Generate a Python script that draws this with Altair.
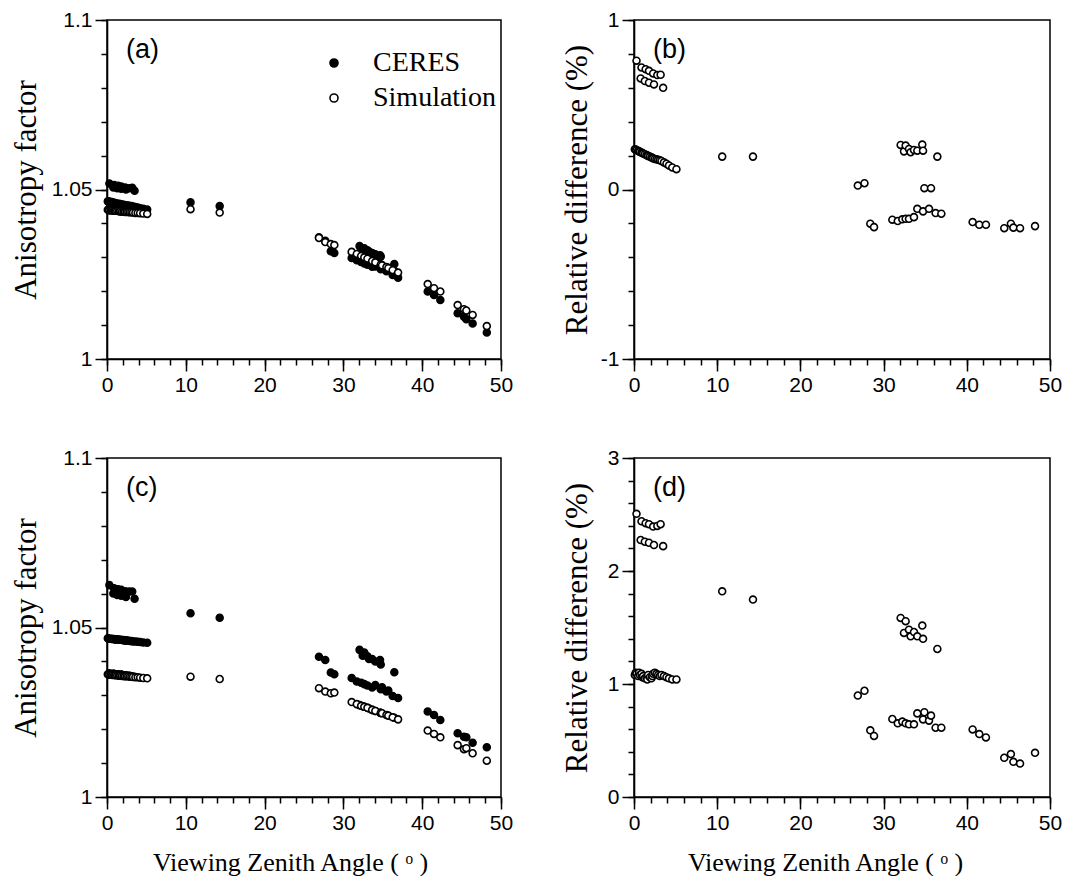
import altair as alt
import pandas as pd

# ---------------- data ----------------
# viewing zenith angles of the footprints (same for all four panels)
vza = [
    # upper group near nadir
    0.3, 0.9, 1.4, 1.8, 2.3, 2.8, 3.2, 0.8, 1.3, 1.8, 2.4, 3.5,
    # lower group near nadir
    0.1, 0.2, 0.3, 0.5, 0.6, 0.7, 0.9, 1.0, 1.1, 1.3, 1.5, 1.6, 1.7, 1.9,
    2.1, 2.2, 2.3, 2.5, 2.7, 2.9, 3.1, 3.3, 3.6, 3.9, 4.2, 4.6, 5.1,
    # isolated
    10.6, 14.3,
    26.9, 27.7,
    28.4, 28.85,
    32.05, 32.45, 32.65, 33.05, 33.25, 33.65, 34.05, 34.65, 34.74, 36.46,
    31.05, 31.7, 32.25, 32.65, 33.05, 33.65, 34.05, 34.74, 34.9, 35.46, 35.7, 36.25, 36.94,
    40.7, 41.5, 42.3,
    44.5, 45.3, 45.6, 46.4,
    48.2,
]

ceres_a = [
    1.0518, 1.0513, 1.0511, 1.0509, 1.0506, 1.0504, 1.0505, 1.0506, 1.0504, 1.0502, 1.0500, 1.0496,
    1.0465, 1.0465, 1.0463, 1.0463, 1.0463, 1.0461, 1.0461, 1.0460, 1.0459, 1.0459, 1.0457, 1.0457,
    1.0457, 1.0455, 1.0455, 1.0454, 1.0453, 1.0453, 1.0453, 1.0451, 1.0451, 1.0450, 1.0448, 1.0447,
    1.0445, 1.0443, 1.0441,
    1.0462, 1.0451,
    1.0359, 1.0349,
    1.0318, 1.0313,
    1.0333, 1.0325, 1.0327, 1.0321, 1.0317, 1.0313, 1.0309, 1.0306, 1.0302, 1.0280,
    1.0298, 1.0291, 1.0286, 1.0282, 1.0278, 1.0272, 1.0273, 1.0265, 1.0277, 1.0259, 1.0269, 1.0248, 1.0240,
    1.0199, 1.0189, 1.0174,
    1.0135, 1.0125, 1.0117, 1.0105,
    1.0078,
]

sim_a = [
    1.0439, 1.0438, 1.0437, 1.0436, 1.0435, 1.0434, 1.0434, 1.0438, 1.0437, 1.0436, 1.0435, 1.0433,
    1.0440, 1.0440, 1.0439, 1.0439, 1.0439, 1.0438, 1.0438, 1.0438, 1.0437, 1.0437, 1.0436, 1.0436,
    1.0436, 1.0435, 1.0435, 1.0435, 1.0434, 1.0434, 1.0434, 1.0433, 1.0433, 1.0432, 1.0431, 1.0431,
    1.0430, 1.0429, 1.0428,
    1.0442, 1.0432,
    1.0357, 1.0345,
    1.0339, 1.0336,
    1.0306, 1.0302, 1.0300, 1.0296, 1.0294, 1.0289, 1.0285, 1.0279, 1.0278, 1.0260,
    1.0316, 1.0310, 1.0304, 1.0300, 1.0296, 1.0289, 1.0285, 1.0278, 1.0276, 1.0271, 1.0268, 1.0262, 1.0255,
    1.0221, 1.0209, 1.0199,
    1.0159, 1.0147, 1.0143, 1.0130,
    1.0097,
]

reldiff_b = [
    0.76, 0.72, 0.71, 0.70, 0.685, 0.675, 0.677, 0.655, 0.64, 0.63, 0.62, 0.60,
    0.238, 0.236, 0.232, 0.228, 0.226, 0.222, 0.218, 0.215, 0.212, 0.208, 0.204, 0.200,
    0.198, 0.194, 0.190, 0.186, 0.184, 0.180, 0.178, 0.175, 0.172, 0.168, 0.160, 0.152,
    0.142, 0.130, 0.120,
    0.194, 0.194,
    0.023, 0.037,
    -0.202, -0.222,
    0.263, 0.225, 0.259, 0.239, 0.220, 0.233, 0.229, 0.265, 0.229, 0.194,
    -0.178, -0.186, -0.176, -0.173, -0.173, -0.163, -0.114, -0.129, 0.008, -0.114, 0.008, -0.139, -0.143,
    -0.192, -0.208, -0.208,
    -0.228, -0.202, -0.225, -0.228,
    -0.216,
]

ceres_c = [
    1.0625, 1.0616, 1.0613, 1.0611, 1.0607, 1.0606, 1.0606, 1.0600, 1.0596, 1.0594, 1.0590, 1.0585,
    1.0468, 1.0467, 1.0467, 1.0467, 1.0466, 1.0466, 1.0466, 1.0465, 1.0465, 1.0465, 1.0464, 1.0464,
    1.0464, 1.0463, 1.0463, 1.0462, 1.0462, 1.0462, 1.0461, 1.0460, 1.0460, 1.0459, 1.0459, 1.0458,
    1.0457, 1.0456, 1.0455,
    1.0542, 1.0529,
    1.0414, 1.0404,
    1.0367, 1.0362,
    1.0434, 1.0417, 1.0426, 1.0415, 1.0407, 1.0407, 1.0400, 1.0404, 1.0391, 1.0368,
    1.0351, 1.0341, 1.0337, 1.0333, 1.0329, 1.0323, 1.0330, 1.0318, 1.0324, 1.0311, 1.0314, 1.0298, 1.0292,
    1.0252, 1.0242, 1.0227,
    1.0188, 1.0178, 1.0176, 1.0160,
    1.0147,
]

sim_c = [
    1.0365, 1.0363, 1.0362, 1.0361, 1.0359, 1.0358, 1.0356, 1.0364, 1.0362, 1.0361, 1.0359, 1.0355,
    1.0362, 1.0362, 1.0361, 1.0361, 1.0361, 1.0360, 1.0360, 1.0360, 1.0359, 1.0359, 1.0358, 1.0358,
    1.0358, 1.0357, 1.0357, 1.0357, 1.0356, 1.0356, 1.0356, 1.0355, 1.0355, 1.0354, 1.0353, 1.0353,
    1.0352, 1.0351, 1.0350,
    1.0355, 1.0348,
    1.0321, 1.0311,
    1.0306, 1.0308,
    1.0271, 1.0268, 1.0266, 1.0263, 1.0261, 1.0257, 1.0254, 1.0249, 1.0248, 1.0234,
    1.0280, 1.0274, 1.0269, 1.0266, 1.0263, 1.0257, 1.0254, 1.0248, 1.0247, 1.0242, 1.0240, 1.0235, 1.0229,
    1.0196, 1.0186, 1.0176,
    1.0153, 1.0141, 1.0144, 1.0129,
    1.0107,
]

reldiff_d = [
    2.506, 2.44, 2.423, 2.414, 2.393, 2.399, 2.414, 2.274, 2.259, 2.25, 2.23, 2.22,
    1.08, 1.10, 1.09, 1.07, 1.10, 1.08, 1.09, 1.06, 1.07, 1.05, 1.06, 1.04,
    1.08, 1.06, 1.05, 1.07, 1.09, 1.10, 1.09, 1.08, 1.07, 1.08, 1.07, 1.06,
    1.05, 1.04, 1.04,
    1.82, 1.747,
    0.898, 0.94,
    0.59, 0.54,
    1.585, 1.452, 1.556, 1.481, 1.422, 1.46, 1.422, 1.517, 1.40, 1.31,
    0.69, 0.652, 0.667, 0.652, 0.643, 0.643, 0.74, 0.687, 0.75, 0.676, 0.72, 0.613, 0.613,
    0.598, 0.557, 0.527,
    0.347, 0.38, 0.311, 0.296,
    0.391,
]

series_names = ["CERES", "Simulation"]
panel_labels = ["(a)", "(b)", "(c)", "(d)"]
x_title = "Viewing Zenith Angle ( ᵒ )"
y_title_left = "Anisotropy factor"
y_title_right = "Relative difference (%)"

x_major = [0, 10, 20, 30, 40, 50]
x_minor = list(range(0, 51, 2))
ya_major = [1, 1.05, 1.1]
ya_minor = [round(1 + 0.01 * i, 2) for i in range(11)]
yb_major = [-1, 0, 1]
yb_minor = [round(-1 + 0.2 * i, 1) for i in range(11)]
yd_major = [0, 1, 2, 3]
yd_minor = [round(0.2 * i, 1) for i in range(16)]

# ---------------- styling ----------------
SANS = "Liberation Sans"
SERIF = "Liberation Serif"
W_L, W_R, H = 394, 416, 339
MAJ, MIN = 12, 6
TW = 1.5


def major_axis(orient, values, title, extent, title_size, title_pad, title_x=None):
    kw = dict(
        orient=orient, values=values,
        labelExpr="'' + datum.value",
        labelFont=SANS, labelFontSize=21, labelColor="black",
        tickColor="black", tickWidth=TW, tickSize=MAJ,
        domainColor="black", domainWidth=1.6,
        grid=False, labelFlush=False, labelOverlap=False, labelPadding=3,
        minExtent=extent, maxExtent=extent,
    )
    if title:
        kw.update(title=title, titleFont=SERIF, titleFontWeight="normal", titleColor="black",
                  titleFontSize=title_size, titlePadding=title_pad)
        if title_x is not None:
            kw.update(titleX=title_x)
    else:
        kw.update(title=None)
    return alt.Axis(**kw)


def minor_axis(orient, values):
    return alt.Axis(
        orient=orient, values=values, labels=False, domain=False, grid=False,
        tickColor="black", tickWidth=TW, tickSize=MIN, title=None,
    )


xscale = alt.Scale(domain=[0, 50], nice=False, zero=False)

PT = dict(shape="circle", size=48, stroke="black", strokeWidth=1.6,
          opacity=1, fillOpacity=1, strokeOpacity=1)


def label_layer(txt):
    return alt.Chart(pd.DataFrame({"label": [txt]})).mark_text(
        align="left", baseline="middle", font=SANS, fontSize=27, color="black"
    ).encode(x=alt.value(19), y=alt.value(30), text="label:N")


def build(df, yscale, y_major, y_minor, y_extent, y_title, with_xtitle, fill_enc, label,
          width, title_x):
    minor = alt.Chart(df).mark_point(opacity=0).encode(
        x=alt.X("vza:Q", scale=xscale, axis=minor_axis("bottom", x_minor)),
        y=alt.Y("val:Q", scale=yscale, axis=minor_axis("left", y_minor)),
    )
    xa = (major_axis("bottom", x_major, x_title, 38, 26, 14, title_x) if with_xtitle
          else major_axis("bottom", x_major, None, 38, 26, 14))
    pts = alt.Chart(df).mark_point(**PT).encode(
        x=alt.X("vza:Q", scale=xscale, axis=xa),
        y=alt.Y("val:Q", scale=yscale,
                axis=major_axis("left", y_major, y_title, y_extent, 31, 6)),
        fill=fill_enc,
    )
    return alt.layer(minor, pts, label_layer(label)).resolve_axis(
        x="independent", y="independent"
    ).properties(width=width, height=H)


def factor_panel(ceres, sim, label, with_legend, with_xtitle):
    df = pd.concat([
        pd.DataFrame({"vza": vza, "val": ceres, "series": series_names[0]}),
        pd.DataFrame({"vza": vza, "val": sim, "series": series_names[1]}),
    ], ignore_index=True)
    fscale = alt.Scale(domain=series_names, range=["black", "white"])
    if with_legend:
        leg = alt.Legend(
            orient="none", legendX=213, legendY=29, title=None, padding=0,
            labelFont=SERIF, labelFontSize=28, labelColor="black", labelOffset=25,
            symbolType="circle", symbolSize=64, symbolStrokeColor="black",
            symbolStrokeWidth=1.6, symbolOpacity=1, rowPadding=7, direction="vertical",
        )
        fill_enc = alt.Fill("series:N", scale=fscale, legend=leg)
    else:
        fill_enc = alt.Fill("series:N", scale=fscale, legend=None)
    yscale = alt.Scale(domain=[1, 1.1], nice=False, zero=False)
    return build(df, yscale, ya_major, ya_minor, 59, y_title_left, with_xtitle,
                 fill_enc, label, W_L, 183)


def diff_panel(vals, label, dom, y_major, y_minor, with_xtitle):
    df = pd.DataFrame({"vza": vza, "val": vals})
    yscale = alt.Scale(domain=dom, nice=False, zero=False)
    return build(df, yscale, y_major, y_minor, 35, y_title_right, with_xtitle,
                 alt.value("white"), label, W_R, 191)


pa = factor_panel(ceres_a, sim_a, panel_labels[0], True, False)
pb = diff_panel(reldiff_b, panel_labels[1], [-1, 1], yb_major, yb_minor, False)
pc = factor_panel(ceres_c, sim_c, panel_labels[2], False, True)
pd_ = diff_panel(reldiff_d, panel_labels[3], [0, 3], yd_major, yd_minor, True)

row1 = alt.hconcat(pa, pb, spacing=46).resolve_scale(fill="independent").resolve_legend(fill="independent")
row2 = alt.hconcat(pc, pd_, spacing=46).resolve_scale(fill="independent").resolve_legend(fill="independent")

chart = alt.vconcat(row1, row2, spacing=48).resolve_scale(
    fill="independent"
).resolve_legend(
    fill="independent"
).properties(
    padding={"left": 9, "top": 8, "right": 0, "bottom": 0},
    background="white",
).configure_view(stroke="black", strokeWidth=1.5)

chart.save("out.html", embed_options={"renderer": "svg", "actions": False})
